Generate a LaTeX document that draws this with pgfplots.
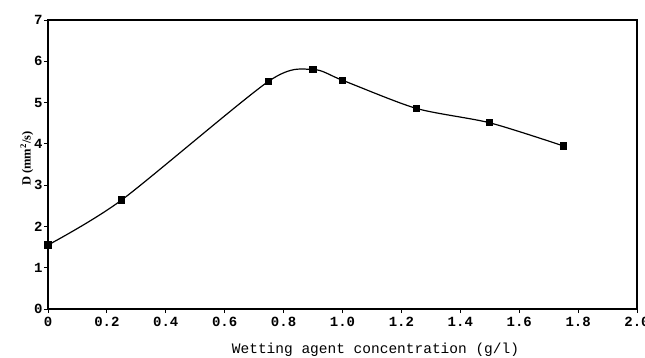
\documentclass[border=0pt]{standalone}
\usepackage{fontspec}
\setmainfont{Liberation Serif}
\setmonofont{Liberation Mono}
\usepackage{pgfplots}
\pgfplotsset{compat=1.18}

\begin{document}
\begin{tikzpicture}[x=1pt,y=1pt]
% overall frame of the figure
\path[use as bounding box] (-48,-48) rectangle (597,309);
\begin{axis}[
  scale only axis,
  width=589pt, height=289pt,
  xmin=0, xmax=2, ymin=0, ymax=7,
  axis line style={line width=1.3pt},
  tick style={black, line width=0.8pt},
  tick align=outside,
  xtick pos=bottom, ytick pos=left,
  major tick length=4pt,
  xtick={0,0.2,0.4,0.6,0.8,1.0,1.2,1.4,1.6,1.8,2.0},
  xticklabels={0,0.2,0.4,0.6,0.8,1.0,1.2,1.4,1.6,1.8,2.0},
  ytick={0,1,...,7},
  ticklabel style={font=\ttfamily\bfseries\fontsize{14}{15}\selectfont},
  xticklabel style={yshift=-1pt},
  yticklabel style={xshift=2pt},
  /pgf/number format/assume math mode=true,
  xlabel={Wetting agent concentration (g/l)},
  xlabel style={font=\ttfamily\fontsize{14.5}{16}\selectfont, at={(axis description cs:0.5,0)}, anchor=center, yshift=-41pt, xshift=33pt},
  ylabel={D (mm\textsuperscript{2}/s)},
  ylabel style={font=\bfseries\fontsize{12.5}{14}\selectfont, at={(axis description cs:-0.036,0.52)}, anchor=center},
  clip=false,
]
\addplot[black, line width=1.2pt, smooth, tension=0.45,
  mark=square*, mark size=3pt, mark options={solid}]
  coordinates {
    (0,1.55) (0.25,2.64) (0.75,5.52) (0.9,5.80)
    (1.0,5.54) (1.25,4.86) (1.5,4.51) (1.75,3.95)
  };
\end{axis}
\end{tikzpicture}
\end{document}
